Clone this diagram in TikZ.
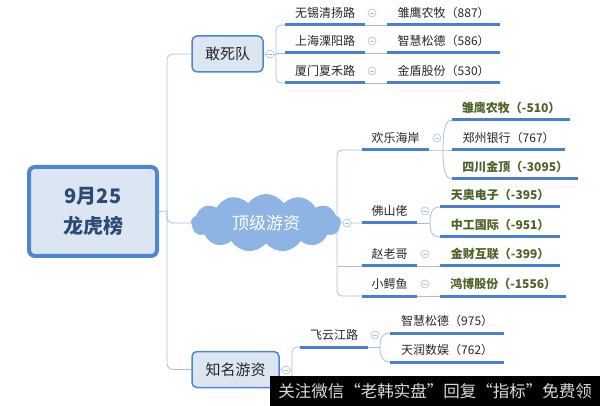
\documentclass[tikz,border=0pt]{standalone}
\usepackage{fontspec}
\setmainfont{Noto Sans CJK SC}
\usetikzlibrary{shapes.symbols,backgrounds}

\definecolor{boxfill}{HTML}{DCE6F2}
\definecolor{boxline}{HTML}{4F86D1}
\definecolor{cloudfill}{HTML}{8DB4E2}
\definecolor{linkgray}{HTML}{A9BEDD}
\definecolor{ulblue}{HTML}{4A7ECF}
\definecolor{textdark}{HTML}{262626}
\definecolor{hotgreen}{HTML}{4F6228}
\definecolor{rootblue}{HTML}{2B4B74}

\begin{document}
\begin{tikzpicture}[
  x=1pt,y=-1pt,
  root/.style={draw=boxline,line width=4pt,rounded corners=6pt,fill=boxfill,minimum width=128pt,minimum height=89pt,align=center,font=\fontsize{20}{30}\selectfont\bfseries,text=rootblue},
  branch/.style={draw=boxline,line width=1.5pt,rounded corners=5pt,fill=boxfill,minimum height=36pt,inner xsep=8pt,font=\fontsize{15}{18}\selectfont,text=textdark},
  hot/.style={cloud,cloud puffs=13,cloud puff arc=110,aspect=2.6,fill=cloudfill,minimum width=150pt,minimum height=58pt,inner sep=0pt,text=white,font=\fontsize{17}{20}\selectfont},
  leaf/.style={anchor=south west,minimum height=24pt,inner sep=0pt,font=\fontsize{12}{14}\selectfont,text=textdark},
  sell/.style={leaf,text=hotgreen,font=\fontsize{12}{14}\selectfont\bfseries},
  fold/.style={circle,draw=linkgray,line width=0.6pt,minimum size=8pt,inner sep=0pt,fill=white,
    path picture={\draw[linkgray,line width=0.6pt] ([xshift=-2pt]path picture bounding box.center) -- ([xshift=2pt]path picture bounding box.center);}},
  link/.style={draw=linkgray,line width=0.8pt},
  uline/.style={draw=ulblue,line width=3pt},
  ad/.style={fill=black,anchor=north west,minimum width=330pt,minimum height=30pt,inner sep=0pt,text=white!85!black,font=\fontsize{16.5}{18}\selectfont}
]
  \useasboundingbox (0,0) rectangle (600,406);

  % main topics
  \node[root] (day) at (93,211.5) {9月25\\龙虎榜};
  \node[branch,minimum width=71pt] (gsd) at (227.5,54) {敢死队};
  \node[hot] (djyz) at (266,223) {顶级游资};
  \node[branch,minimum width=87pt] (zmyz) at (235.5,369.5) {知名游资};
  \coordinate (tk) at (167,211);

  % 敢死队
  \node[fold] (gsdf) at (270,54) {};
  \coordinate (gsdt) at (276,54);
  \node[leaf,minimum width=80pt] (wx) at (285,25) {无锡清扬路};
  \node[leaf,minimum width=80pt] (sh) at (285,53) {上海溧阳路};
  \node[leaf,minimum width=80pt] (xm) at (285,83) {厦门夏禾路};
  \node[fold] (wxf) at (372,13) {};
  \node[fold] (shf) at (372,41) {};
  \node[fold] (xmf) at (372,71) {};
  \node[leaf,minimum width=113pt] (wx1) at (387,25) {雏鹰农牧（887）};
  \node[leaf,minimum width=113pt] (sh1) at (387,53) {智慧松德（586）};
  \node[leaf,minimum width=113pt] (xm1) at (387,83) {金盾股份（530）};

  % 顶级游资
  \node[fold] (djf) at (347,223) {};
  \coordinate (djt) at (337,223);
  \node[leaf,minimum width=67pt] (hl) at (362,150) {欢乐海岸};
  \node[leaf,minimum width=55pt] (fs) at (362,223) {佛山佬};
  \node[leaf,minimum width=55pt] (zl) at (362,266) {赵老哥};
  \node[leaf,minimum width=55pt] (xe) at (362,296) {小鳄鱼};
  \node[fold] (hlf) at (437,138) {};
  \node[fold] (fsf) at (425,211) {};
  \node[fold] (zlf) at (425,254) {};
  \node[fold] (xef) at (425,284) {};
  \coordinate (hlk) at (443,150);
  \coordinate (fsk) at (430,223);
  \node[sell,minimum width=118pt] (hl1) at (452,120) {雏鹰农牧（-510）};
  \node[leaf,minimum width=113pt] (hl2) at (452,150) {郑州银行（767）};
  \node[sell,minimum width=126pt] (hl3) at (452,179) {四川金顶（-3095）};
  \node[sell,minimum width=120pt] (fs1) at (440,207) {天奥电子（-395）};
  \node[sell,minimum width=120pt] (fs2) at (440,237) {中工国际（-951）};
  \node[sell,minimum width=120pt] (zl1) at (440,266) {金财互联（-399）};
  \node[sell,minimum width=126pt] (xe1) at (440,296) {鸿博股份（-1556）};

  % 知名游资
  \node[fold] (zmf) at (286,370) {};
  \coordinate (zmb) at (292,406);
  \node[leaf,minimum width=68pt] (fy) at (300,347) {飞云江路};
  \node[fold] (fyf) at (375,335) {};
  \coordinate (fyk) at (380,347);
  \node[leaf,minimum width=114pt] (fy1) at (390,333) {智慧松德（975）};
  \node[leaf,minimum width=114pt] (fy2) at (390,362) {天润数娱（762）};

  \begin{scope}[on background layer]
    \draw[link] (day.east) -- (tk);
    \draw[link,rounded corners=6pt] (gsd.west) -| (tk) |- (zmyz.west);
    \draw[link,rounded corners=6pt] (tk) |- (djyz.west);

    \draw[link] (gsd.east) -- (gsdf) -- (gsdt);
    \draw[link,rounded corners=5pt] (wx.south west) -| (gsdt) |- (xm.south west);
    \draw[link] (gsdt) |- (sh.south west);
    \draw[link] (wx.south east) -- (wx1.south west);
    \draw[link] (sh.south east) -- (sh1.south west);
    \draw[link] (xm.south east) -- (xm1.south west);

    \draw[link] (djyz.east) -- (djf) -- (fs.south west);
    \draw[link,rounded corners=5pt] (hl.south west) -| (djt) |- (xe.south west);
    \draw[link] (djt |- zl.south west) -- (zl.south west);
    \draw[link] (hl.south east) -- (hlk) -- (hl2.south west);
    \draw[link] (hlk) .. controls (443,127) and (446,120) .. (hl1.south west);
    \draw[link] (hlk) .. controls (443,172) and (446,179) .. (hl3.south west);
    \draw[link] (fs.south east) -- (fsk);
    \draw[link] (fsk) .. controls (430,211) and (433,207) .. (fs1.south west);
    \draw[link] (fsk) .. controls (430,233) and (433,237) .. (fs2.south west);
    \draw[link] (zl.south east) -- (zl1.south west);
    \draw[link] (xe.south east) -- (xe1.south west);

    \draw[link] (zmyz.east) -- (zmf) -- (zmf -| zmb);
    \draw[link,rounded corners=5pt] (fy.south west) -| (zmb);
    \draw[link] (fy.south east) -- (fyk);
    \draw[link] (fyk) .. controls (380,337) and (383,333) .. (fy1.south west);
    \draw[link] (fyk) .. controls (380,357) and (383,362) .. (fy2.south west);

    % underlines
    \foreach \n in {wx,sh,xm,wx1,sh1,xm1,hl,fs,zl,xe,hl1,hl2,hl3,fs1,fs2,zl1,xe1,fy,fy1,fy2}
      \draw[uline] (\n.south west) -- (\n.south east);
  \end{scope}

  % watermark bar
  \node[ad] (banner) at (270,376) {关注微信“老韩实盘”回复“指标”免费领};
\end{tikzpicture}
\end{document}
